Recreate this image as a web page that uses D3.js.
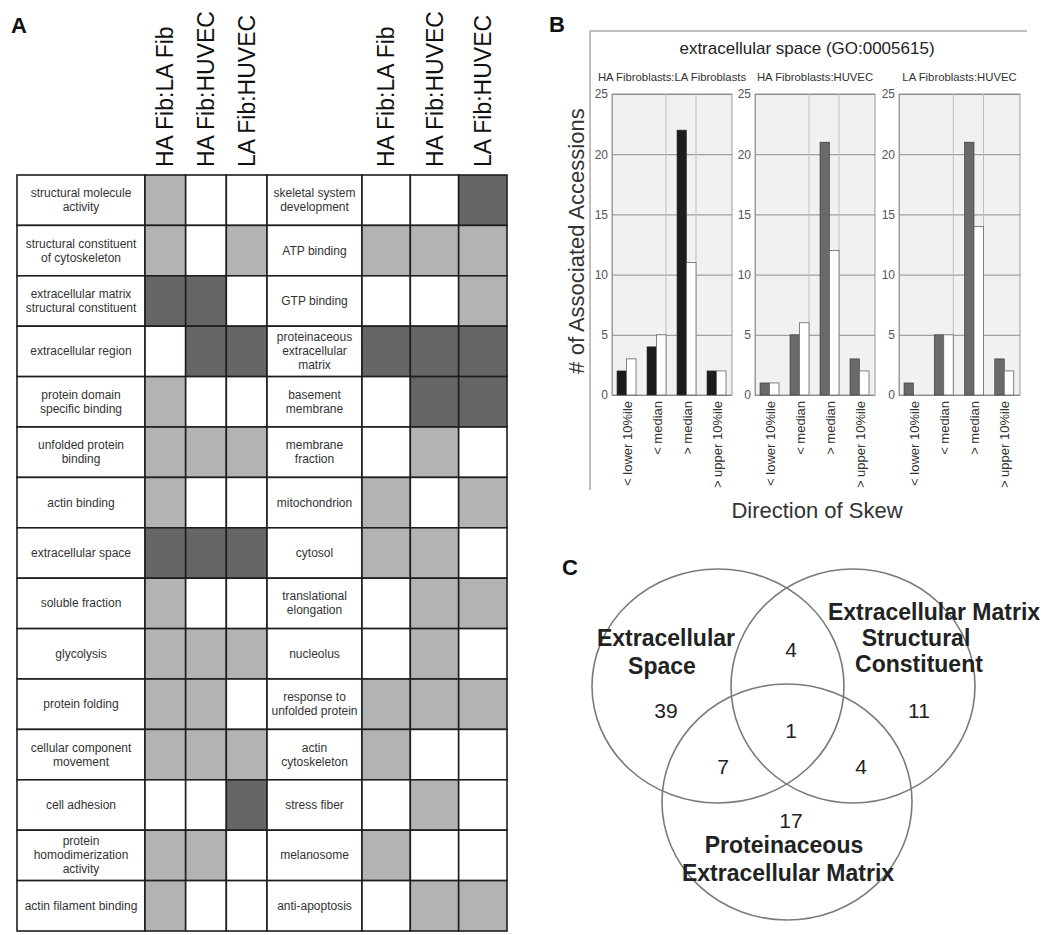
<!DOCTYPE html>
<html>
<head>
<meta charset="utf-8">
<script src="https://cdn.jsdelivr.net/npm/d3@7"></script>
<style>
  body { margin: 0; background: #fff; }
  svg { display: block; }
  text { font-family: "Liberation Sans", Arial, Helvetica, sans-serif; }
</style>
</head>
<body>
<svg id="fig"></svg>
<script>
// ---- data ----
const comparisons = ["HA Fib:LA Fib", "HA Fib:HUVEC", "LA Fib:HUVEC"];

const leftTerms = [
  "structural molecule\nactivity", "structural constituent\nof cytoskeleton",
  "extracellular matrix\nstructural constituent", "extracellular region",
  "protein domain\nspecific binding", "unfolded protein\nbinding", "actin binding",
  "extracellular space", "soluble fraction", "glycolysis", "protein folding",
  "cellular component\nmovement", "cell adhesion", "protein\nhomodimerization\nactivity",
  "actin filament binding"
];
// 0 = none, 1 = light, 2 = dark
const leftLevels = [
  [1,0,0],[1,0,1],[2,2,0],[0,2,2],[1,0,0],[1,1,1],[1,0,0],[2,2,2],
  [1,0,0],[1,1,1],[1,1,0],[1,1,1],[0,0,2],[1,1,0],[1,0,0]
];

const rightTerms = [
  "skeletal system\ndevelopment", "ATP binding", "GTP binding",
  "proteinaceous\nextracellular\nmatrix", "basement\nmembrane", "membrane\nfraction",
  "mitochondrion", "cytosol", "translational\nelongation", "nucleolus",
  "response to\nunfolded protein", "actin\ncytoskeleton", "stress fiber", "melanosome",
  "anti-apoptosis"
];
const rightLevels = [
  [0,0,2],[1,1,1],[0,0,1],[2,2,2],[0,2,2],[0,1,0],[1,0,1],[1,1,0],
  [0,1,1],[0,1,0],[1,1,1],[1,0,0],[0,1,0],[1,0,0],[0,1,1]
];

const skewPanels = ["HA Fibroblasts:LA Fibroblasts", "HA Fibroblasts:HUVEC", "LA Fibroblasts:HUVEC"];
const skewCategories = ["< lower 10%ile", "< median", "> median", "> upper 10%ile"];
const skewFirst  = [[2,4,22,2], [1,5,21,3], [1,5,21,3]];
const skewSecond = [[3,5,11,2], [1,6,12,2], [0,5,14,2]];
const yTicks = [0, 5, 10, 15, 20, 25];

const vennSets = [
  ["Extracellular", "Space"],
  ["Extracellular Matrix", "Structural", "Constituent"],
  ["Proteinaceous", "Extracellular Matrix"]
];
const vennRegions = ["A", "B", "C", "AB", "AC", "BC", "ABC"];
const vennCounts  = [39, 11, 17, 4, 7, 4, 1];

// ---- svg ----
const W = 1050, H = 935;
const svg = d3.select("#fig").attr("width", W).attr("height", H);
svg.append("rect").attr("width", W).attr("height", H).attr("fill", "#fff");

function panelLetter(t, x, y) {
  svg.append("text").text(t).attr("x", x).attr("y", y)
    .attr("font-size", 22).attr("font-weight", "bold").attr("fill", "#111");
}
panelLetter("A", 11, 33);
panelLetter("B", 549, 32);
panelLetter("C", 562, 575);

// ---- panel A: table ----
const rowY = d3.scaleBand().domain(d3.range(leftTerms.length)).range([175, 931]);
const fillScale = d3.scaleOrdinal().domain([0,1,2]).range(["#ffffff", "#b2b3b5", "#656668"]);
const gA = svg.append("g");

function drawBlock(terms, levels, labelX0, labelX1, cellX0, cellX1) {
  const colX = d3.scaleBand().domain(comparisons).range([cellX0, cellX1]);

  // column headers
  gA.selectAll(null).data(comparisons).enter().append("text")
    .attr("transform", d => `translate(${colX(d) + colX.bandwidth()/2 + 8},167) rotate(-90)`)
    .attr("font-size", 23).attr("fill", "#111")
    .text(d => d);

  // term labels
  gA.selectAll(null).data(terms).enter().append("rect")
    .attr("x", labelX0).attr("y", (d, i) => rowY(i))
    .attr("width", labelX1 - labelX0).attr("height", rowY.bandwidth())
    .attr("fill", "#fff").attr("stroke", "#1e1e1e").attr("stroke-width", 1.6);

  const lab = gA.selectAll(null).data(terms).enter().append("text")
    .attr("text-anchor", "middle").attr("font-size", 12).attr("fill", "#333");
  lab.each(function(d, i) {
    const lines = d.split("\n");
    const cy = rowY(i) + rowY.bandwidth()/2;
    const lh = 14;
    d3.select(this).selectAll("tspan").data(lines).enter().append("tspan")
      .attr("x", (labelX0 + labelX1)/2)
      .attr("y", (l, k) => cy + (k - (lines.length - 1)/2) * lh + 4)
      .text(l => l);
  });

  // cells
  levels.forEach((row, i) => {
    gA.selectAll(null).data(row).enter().append("rect")
      .attr("x", (v, j) => colX(comparisons[j]))
      .attr("y", rowY(i))
      .attr("width", colX.bandwidth()).attr("height", rowY.bandwidth())
      .attr("fill", v => fillScale(v))
      .attr("stroke", "#1e1e1e").attr("stroke-width", 1.6);
  });
}
drawBlock(leftTerms, leftLevels, 17, 145, 145, 267);
drawBlock(rightTerms, rightLevels, 267, 362, 362, 507);

// ---- panel B: bar charts ----
const gB = svg.append("g");
gB.append("line").attr("x1", 590).attr("x2", 1027).attr("y1", 31).attr("y2", 31)
  .attr("stroke", "#aaa").attr("stroke-width", 1.5);
gB.append("line").attr("x1", 590).attr("x2", 590).attr("y1", 31).attr("y2", 490)
  .attr("stroke", "#aaa").attr("stroke-width", 1.5);

gB.append("text").text("extracellular space (GO:0005615)")
  .attr("x", 807).attr("y", 54).attr("text-anchor", "middle")
  .attr("font-size", 17).attr("fill", "#222");

gB.append("text").text("# of Associated Accessions")
  .attr("transform", "translate(584,241) rotate(-90)")
  .attr("text-anchor", "middle").attr("font-size", 22).attr("fill", "#333");

gB.append("text").text("Direction of Skew")
  .attr("x", 817).attr("y", 518).attr("text-anchor", "middle")
  .attr("font-size", 22).attr("fill", "#333");

const plotRanges = [[612, 732], [755, 875], [899, 1020]];
const y = d3.scaleLinear().domain([0, 25]).range([395, 94]);
const series = ["first", "second"];

skewPanels.forEach((name, p) => {
  const [x0r, x1r] = plotRanges[p];
  const x0 = d3.scaleBand().domain(skewCategories).range([x0r, x1r]);
  const x1 = d3.scaleBand().domain(series).range([5, 24]);
  const g = gB.append("g");

  g.append("text").text(name).attr("x", (x0r + x1r)/2).attr("y", 81)
    .attr("text-anchor", "middle").attr("font-size", 11.3).attr("fill", "#333");

  g.append("rect").attr("x", x0r).attr("y", y(25))
    .attr("width", x1r - x0r).attr("height", y(0) - y(25))
    .attr("fill", "#f1f1f1").attr("stroke", "#9a9a9a").attr("stroke-width", 1);

  const axis = d3.axisLeft(y).tickValues(yTicks).tickSizeInner(-(x1r - x0r))
    .tickSizeOuter(0).tickPadding(4);
  const ax = g.append("g").attr("transform", `translate(${x0r},0)`).call(axis);
  ax.select(".domain").attr("stroke", "#9a9a9a");
  ax.selectAll(".tick line").attr("stroke", "#8c8c8c");
  ax.selectAll(".tick text").attr("font-size", 12).attr("fill", "#555")
    .attr("font-family", "\"Liberation Sans\", Arial, sans-serif");

  // faint separators at the right edge of the middle bar pairs
  g.selectAll(null).data(skewCategories.slice(1, 3)).enter().append("line")
    .attr("x1", d => x0(d) + x1("second") + x1.bandwidth())
    .attr("x2", d => x0(d) + x1("second") + x1.bandwidth())
    .attr("y1", y(25)).attr("y2", y(0))
    .attr("stroke", "#bdbdbd").attr("stroke-width", 1);

  const firstColor = p === 0 ? "#1c1c1c" : "#6a6a6a";
  g.selectAll(null).data(skewFirst[p]).enter().append("rect")
    .attr("x", (v, i) => x0(skewCategories[i]) + x1("first"))
    .attr("y", v => y(v)).attr("width", x1.bandwidth())
    .attr("height", v => y(0) - y(v))
    .attr("fill", firstColor).attr("stroke", "#333").attr("stroke-width", 0.6);
  g.selectAll(null).data(skewSecond[p]).enter().append("rect")
    .attr("x", (v, i) => x0(skewCategories[i]) + x1("second"))
    .attr("y", v => y(v)).attr("width", x1.bandwidth())
    .attr("height", v => y(0) - y(v))
    .attr("fill", "#fff").attr("stroke", v => v > 0 ? "#666" : "none").attr("stroke-width", 0.8);

  g.selectAll(null).data(skewCategories).enter().append("text")
    .attr("transform", d => `translate(${x0(d) + x0.bandwidth()/2 + 4.5},401) rotate(-90)`)
    .attr("text-anchor", "end").attr("font-size", 13).attr("fill", "#333")
    .text(d => d);
});

// ---- panel C: venn ----
const vennShapes = [
  { cx: 718, cy: 686, rx: 126, ry: 117 },
  { cx: 853, cy: 686, rx: 122, ry: 117 },
  { cx: 787, cy: 802, rx: 125, ry: 118 }
];
const vennLabelPos = [
  [[666, 646], [662, 674]],
  [[934, 620], [916, 646], [919, 672]],
  [[784, 853], [788, 881]]
];
const vennCountPos = {
  A: [666, 718], B: [919, 718], C: [791, 828],
  AB: [791, 657], AC: [723, 774], BC: [861, 774], ABC: [791, 738]
};
const gC = svg.append("g");
gC.selectAll("ellipse").data(vennShapes).enter().append("ellipse")
  .attr("cx", d => d.cx).attr("cy", d => d.cy)
  .attr("rx", d => d.rx).attr("ry", d => d.ry)
  .attr("fill", "none").attr("stroke", "#7a7a7a").attr("stroke-width", 1.6);

vennSets.forEach((lines, s) => {
  gC.selectAll(null).data(lines).enter().append("text")
    .attr("x", (l, k) => vennLabelPos[s][k][0]).attr("y", (l, k) => vennLabelPos[s][k][1])
    .attr("text-anchor", "middle").attr("font-size", 23).attr("font-weight", "bold")
    .attr("fill", "#222").text(l => l);
});
gC.selectAll(null).data(vennCounts).enter().append("text")
  .attr("x", (c, i) => vennCountPos[vennRegions[i]][0])
  .attr("y", (c, i) => vennCountPos[vennRegions[i]][1])
  .attr("text-anchor", "middle").attr("font-size", 21).attr("fill", "#222")
  .text(c => c);
</script>
</body>
</html>
